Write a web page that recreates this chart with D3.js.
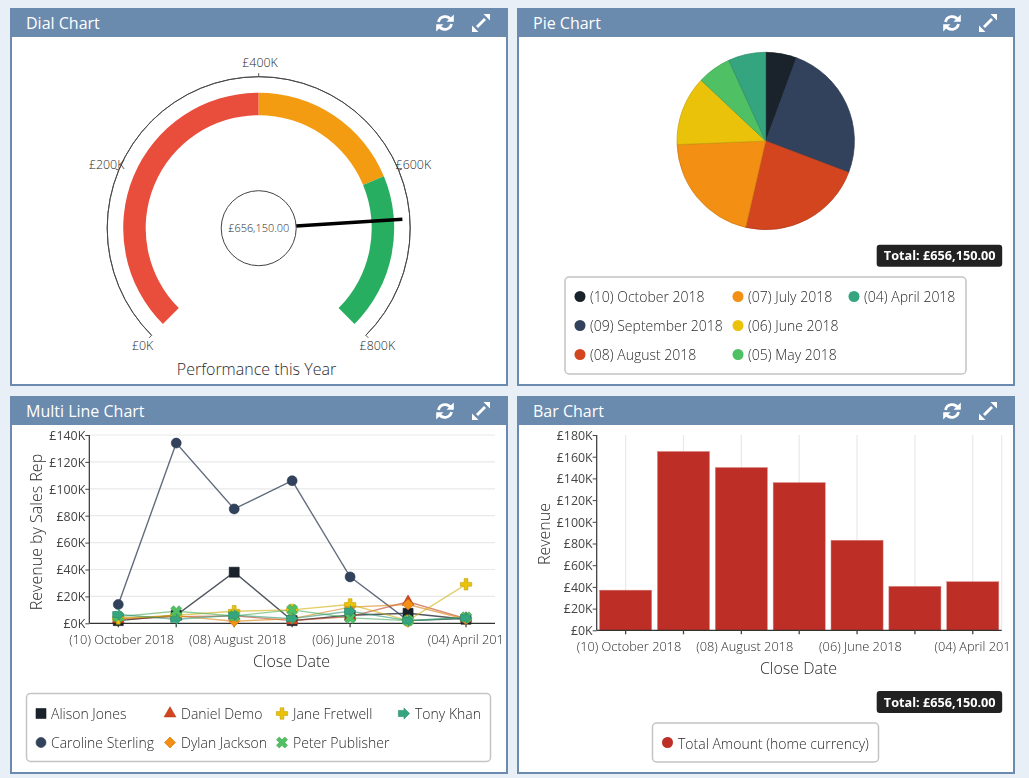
<!DOCTYPE html>
<html><head><meta charset="utf-8">
<script src="https://cdn.jsdelivr.net/npm/d3@7"></script>
<style>
html,body{margin:0;padding:0;background:#e8eff7;width:1029px;height:778px;overflow:hidden}
svg{display:block;filter:blur(0.35px)}
text{font-family:"Open Sans",sans-serif;font-weight:300;fill:#2a2a2a}
</style></head><body><svg id="c" width="1029" height="778"></svg>
<script>
const months=["(10) October 2018","(09) September 2018","(08) August 2018","(07) July 2018","(06) June 2018","(05) May 2018","(04) April 2018"];
const monthTotals=[37,164.8,150,136.1,83,40.5,44.75];
const monthColors=["#1a222c","#32425c","#d2451e","#f39013","#eac20a","#4fc063","#35a57f"];
const axisMonthLabels=["(10) October 2018","","(08) August 2018","","(06) June 2018","","(04) April 2018"];
const dialTicks=[0,200,400,600,800];
const dialBands=[{from:0,to:400,color:"#e94e3d"},{from:400,to:600,color:"#f39c12"},{from:600,to:800,color:"#27ae60"}];
const dialValue=656.15;
const reps=["Alison Jones","Caroline Sterling","Daniel Demo","Dylan Jackson","Jane Fretwell","Peter Publisher","Tony Khan"];
const repColors=["#1a222c","#32425c","#d2451e","#f39013","#eac20a","#4fc063","#35a57f"];
const alison=[2,6,38,2,6,7.5,3];
const caroline=[14,134,85,106,34.5,2,3.5];
const daniel=[3,5,5.5,2,5,16,3.5];
const dylan=[4,5.5,1.5,3.5,12,14,3];
const jane=[3.5,6,9,10,14,2,29];
const peter=[5,9,5.5,10,4,2,4.5];
const tony=[6.5,3,6,3.5,9,2,4];
const repSeries=[alison,caroline,daniel,dylan,jane,peter,tony];
const lineTicks=[0,20,40,60,80,100,120,140];
const barTicks=[0,20,40,60,80,100,120,140,160,180];

const svg=d3.select("#c");
const money=k=>"£"+k+"K";
const HEAD="#6a8aae";
const panels=[{x:10,y:8,t:"Dial Chart"},{x:517,y:8,t:"Pie Chart"},{x:10,y:396,t:"Multi Line Chart"},{x:517,y:396,t:"Bar Chart"}];
const PW=498,PH=378;
const defs=svg.append("defs");
panels.forEach((p,i)=>{
  const g=svg.append("g");
  g.append("rect").attr("x",p.x+1).attr("y",p.y+1).attr("width",PW-2).attr("height",PH-2).attr("fill","#fff").attr("stroke",HEAD).attr("stroke-width",2);
  g.append("rect").attr("x",p.x).attr("y",p.y).attr("width",PW).attr("height",29).attr("fill",HEAD);
  g.append("text").attr("x",p.x+16).attr("y",p.y+20.5).attr("font-size",16).style("font-weight",400).style("fill","#fff").text(p.t);
  const ix=p.x+435,iy=p.y+15;
  const ic=g.append("g").attr("transform",`translate(${ix},${iy})`).attr("fill","none").attr("stroke","#fff").attr("stroke-width",2.8);
  ic.append("path").attr("d","M-6.5,-1 A6.8,6.8 0 0 1 6,-3");
  ic.append("path").attr("d","M6.5,1 A6.8,6.8 0 0 1 -6,3");
  ic.append("path").attr("d","M8.8,-8.5V-1.2H1.5Z").attr("fill","#fff").attr("stroke","none");
  ic.append("path").attr("d","M-8.8,8.5V1.2H-1.5Z").attr("fill","#fff").attr("stroke","none");
  const ex=g.append("g").attr("transform",`translate(${p.x+471},${iy})`);
  ex.append("path").attr("d","M-4,4L4,-4").attr("stroke","#fff").attr("stroke-width",2.8);
  ex.append("path").attr("d","M9,-9V-2.5L2.5,-9Z M-9,9V2.5L-2.5,9Z").attr("fill","#fff");
  defs.append("clipPath").attr("id","clip"+i).append("rect").attr("x",p.x+2).attr("y",p.y+29).attr("width",491).attr("height",PH-31);
});

/* ---- Dial ---- */
(function(){
  const cx=258.7,cy=228.2;
  const g=svg.append("g").attr("transform",`translate(${cx},${cy})`);
  const ang=d3.scaleLinear().domain([0,800]).range([-135,135].map(d=>d*Math.PI/180));
  const arc=d3.arc();
  g.selectAll(".band").data(dialBands).join("path").attr("fill",d=>d.color)
   .attr("d",d=>arc({innerRadius:113,outerRadius:135.5,startAngle:ang(d.from),endAngle:ang(d.to)}));
  g.append("path").attr("fill","none").attr("stroke","#444").attr("stroke-width",0.9)
   .attr("d",arc({innerRadius:151.5,outerRadius:151.5,startAngle:ang(0),endAngle:ang(800)}));
  const pt=(k,r)=>[r*Math.sin(ang(k)),-r*Math.cos(ang(k))];
  g.selectAll(".tk").data(dialTicks).join("line").attr("stroke","#444").attr("stroke-width",0.9)
   .attr("x1",d=>pt(d,151.5)[0]).attr("y1",d=>pt(d,151.5)[1]).attr("x2",d=>pt(d,155)[0]).attr("y2",d=>pt(d,155)[1]);
  g.selectAll(".lb").data(dialTicks).join("text").attr("font-size",12.4).attr("text-anchor","middle")
   .attr("x",d=>pt(d,166)[0]+1.3).attr("y",d=>pt(d,166)[1]+4.6)
   .text(d=>money(d));
  const a=[pt(dialValue,37.5),pt(dialValue,144)];
  g.append("line").attr("x1",a[0][0]).attr("y1",a[0][1]).attr("x2",a[1][0]).attr("y2",a[1][1]).attr("stroke","#000").attr("stroke-width",3.5);
  g.append("circle").attr("r",37.5).attr("fill","#fff").attr("stroke","#444").attr("stroke-width",1);
  g.append("text").attr("text-anchor","middle").attr("y",4).attr("font-size",11).attr("textLength",61).attr("lengthAdjust","spacingAndGlyphs").text("£"+d3.format(",.2f")(dialValue*1000));
  svg.append("text").attr("x",256.5).attr("y",374.5).attr("text-anchor","middle").attr("font-size",16).text("Performance this Year");
})();

/* ---- Pie ---- */
function totalBadge(x,y){
  svg.append("rect").attr("x",x).attr("y",y).attr("width",125.5).attr("height",22).attr("rx",3).attr("fill","#222");
  svg.append("text").attr("x",x+63).attr("y",y+15.5).attr("text-anchor","middle").attr("font-size",12.7).style("font-weight",700).style("fill","#fff").text("Total: £"+d3.format(",.2f")(656150));
}
function legendBox(x,y,w,h){
  svg.append("rect").attr("x",x).attr("y",y).attr("width",w).attr("height",h).attr("rx",4).attr("fill","#fff").attr("stroke","#c4c4c4").attr("stroke-width",1.5);
}
(function(){
  const g=svg.append("g").attr("transform","translate(765.7,141)");
  const pie=d3.pie().sort(null)(monthTotals);
  const arc=d3.arc().innerRadius(0).outerRadius(88.7);
  g.selectAll("path").data(pie).join("path").attr("d",arc)
   .attr("fill",(d,i)=>monthColors[i]).attr("stroke",(d,i)=>d3.color(monthColors[i]).darker(0.5)).attr("stroke-width",0.7);
  totalBadge(876.7,244.7);
  legendBox(565,277,401,97);
  const cols=[580,738,854],textCols=[590,748,864],rows=[297,326,355];
  months.forEach((m,i)=>{
    let c=i<3?0:i<6?1:2, r=i<3?i:i<6?i-3:0;
    svg.append("circle").attr("cx",cols[c]).attr("cy",rows[r]-.5).attr("r",5.5).attr("fill",monthColors[i]);
    svg.append("text").attr("x",textCols[c]).attr("y",rows[r]+5).attr("font-size",14).text(m);
  });
})();

/* ---- Axis helpers ---- */
function yAxis(x,y,ticks){
  const a=d3.axisLeft(y).tickValues(ticks).tickFormat(money).tickSize(4).tickPadding(0);
  const g=svg.append("g").attr("transform",`translate(${x},0)`).call(a);
  g.selectAll("text").attr("font-size",12.4).attr("dy","0.35em").style("font-weight",400).style("fill","#444");
  g.selectAll("line").attr("stroke","#444");
  g.select(".domain").attr("stroke","#333").attr("stroke-width",1.2).attr("d",`M0,${y.range()[1]}V${y.range()[0]}`);
}
function xAxis(x,clip,yPos,labels){
  const a=d3.axisBottom(x).tickFormat((d,i)=>labels[i]).tickSize(4).tickPadding(8);
  const w=svg.append("g").attr("clip-path",`url(#${clip})`);
  const g=w.append("g").attr("transform",`translate(0,${yPos})`).call(a);
  g.selectAll("text").attr("font-size",12.8).attr("dx",3.4);
  g.selectAll("line").attr("stroke","#444").attr("stroke-width",1.3);
  g.select(".domain").attr("stroke","#333").attr("stroke-width",1.2).attr("d",`M${x.range()[0]},0H${x.range()[1]}`);
}
function axisTitle(txt,x,y,rot){
  svg.append("text").attr("text-anchor","middle").attr("font-size",16)
    .attr("transform",`translate(${x},${y})`+(rot?" rotate(-90)":"")).text(txt);
}

/* ---- Multi line ---- */
const arrow=(s)=>`M${-s},${-s*.55}H0V${-s}L${s},0L0,${s}V${s*.55}H${-s}Z`;
function marker(g,i,x,y){
  const col=repColors[i];
  const p=g.append("path").attr("fill",col).attr("stroke",d3.color(col).darker(0.5)).attr("stroke-width",0.6);
  const t=`translate(${x},${y})`;
  if(i===0)p.attr("d",d3.symbol(d3.symbolSquare,100)()).attr("transform",t);
  if(i===1)p.attr("d",d3.symbol(d3.symbolCircle,78)()).attr("transform",t);
  if(i===2)p.attr("d",d3.symbol(d3.symbolTriangle,60)()).attr("transform",t);
  if(i===3)p.attr("d",d3.symbol(d3.symbolSquare,60)()).attr("transform",t+" rotate(45)");
  if(i===4)p.attr("d",d3.symbol(d3.symbolCross,72)()).attr("transform",t);
  if(i===5)p.attr("d",d3.symbol(d3.symbolCross,75)()).attr("transform",t+" rotate(45)");
  if(i===6)p.attr("d",arrow(5.6)).attr("transform",t);
}
(function(){
  const x=d3.scaleBand().domain(months).range([89.3,495]);
  const y=d3.scaleLinear().domain([0,140]).range([623.3,435]);
  svg.append("g").selectAll("line").data(lineTicks.slice(1)).join("line")
    .attr("x1",89.3).attr("x2",495).attr("y1",d=>y(d)).attr("y2",d=>y(d)).attr("stroke","#e9e9e9").attr("stroke-width",1.2);
  const cx=m=>x(m)+x.bandwidth()/2;
  const line=d3.line().x((d,i)=>cx(months[i])).y(d=>y(d));
  repSeries.forEach((s,i)=>{
    svg.append("path").attr("d",line(s)).attr("fill","none").attr("stroke",d3.color(repColors[i]).darker(0.3)).attr("stroke-width",1.4).attr("opacity",i<2?0.75:0.6);
  });
  yAxis(89.3,y,lineTicks);
  xAxis(x,"clip2",623.3,axisMonthLabels);
  const mk=svg.append("g");
  repSeries.forEach((s,i)=>s.forEach((v,j)=>marker(mk,i,cx(months[j]),y(v))));
  axisTitle("Revenue by Sales Rep",42,532,true);
  axisTitle("Close Date",291.5,667,false);
  legendBox(26.5,693.5,464,68);
  const cols=[41,170,282,404],textCols=[51,181,293,415],rows=[714,743];
  const order=[[0,0,0],[1,0,1],[2,1,0],[3,1,1],[4,2,0],[5,2,1],[6,3,0]];
  order.forEach(([i,c,r])=>{
    marker(svg,i,cols[c],rows[r]-.5);
    svg.append("text").attr("x",textCols[c]).attr("y",rows[r]+5).attr("font-size",14).text(reps[i]);
  });
})();

/* ---- Bar ---- */
(function(){
  const x=d3.scaleBand().domain(months).range([596.7,1001.7]).paddingInner(0.1).paddingOuter(0.05);
  const y=d3.scaleLinear().domain([0,180]).range([630.3,435]);
  const cx=m=>x(m)+x.bandwidth()/2;
  svg.append("g").selectAll("line").data(months).join("line")
    .attr("x1",d=>cx(d)).attr("x2",d=>cx(d)).attr("y1",435).attr("y2",630.3).attr("stroke","#e9e9e9").attr("stroke-width",1.2);
  svg.append("line").attr("x1",1001.7).attr("x2",1001.7).attr("y1",435).attr("y2",630.3).attr("stroke","#e9e9e9").attr("stroke-width",1.2);
  svg.append("g").selectAll("rect").data(monthTotals).join("rect")
    .attr("x",(d,i)=>x(months[i])).attr("width",x.bandwidth()).attr("y",d=>y(d)).attr("height",d=>y(0)-y(d))
    .attr("fill","#bd2e27").attr("stroke","#d8837f").attr("stroke-width",0.5);
  yAxis(596.7,y,barTicks);
  xAxis(x,"clip3",630.3,axisMonthLabels);
  axisTitle("Revenue",550,534,true);
  axisTitle("Close Date",798.5,674,false);
  totalBadge(876.7,691);
  legendBox(652.5,723,226,39);
  svg.append("circle").attr("cx",667.5).attr("cy",742.5).attr("r",5.5).attr("fill","#bd2e27");
  svg.append("text").attr("x",678).attr("y",748.5).attr("font-size",14).text("Total Amount (home currency)");
})();
</script></body></html>
